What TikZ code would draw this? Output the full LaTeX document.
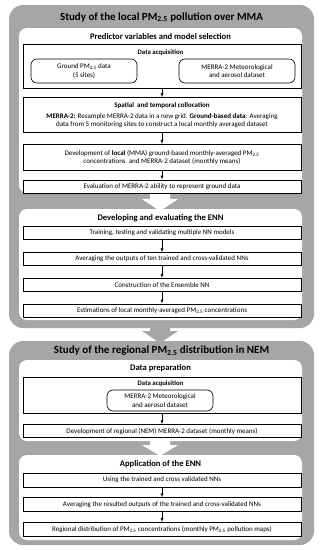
\documentclass[tikz,border=0pt]{standalone}
\usepackage{fontspec}
\setmainfont{Carlito}
\usetikzlibrary{positioning}

\definecolor{framegray}{RGB}{166,166,166}
\tikzset{
    stepbox/.style={draw, rectangle, fill=white, line width=0.6pt, minimum width=278pt, inner sep=1pt, align=center, font=\fontsize{7}{8.4}\selectfont},
    databox/.style={draw, rectangle, rounded corners=6pt, fill=white, line width=0.6pt, inner sep=1pt, align=center, font=\fontsize{7}{8.4}\selectfont},
    maintitle/.style={inner sep=0pt, font=\fontsize{11}{13}\selectfont\bfseries},
    subtitle/.style={inner sep=0pt, font=\fontsize{8.6}{10}\selectfont\bfseries},
    smalltitle/.style={inner sep=0pt, font=\fontsize{6.8}{8}\selectfont\bfseries},
}

\begin{document}
\begin{tikzpicture}[x=1pt, y=-1pt, >=latex]
    \useasboundingbox (0,0) rectangle (323,550);

    % Frames
    \fill[framegray, rounded corners=14pt] (9,5) rectangle (314,328);
    \fill[framegray, rounded corners=14pt] (9,341) rectangle (314,545);
    \fill[framegray] (150,326) -- (170,326) -- (170,331) -- (178,331) -- (160,343) -- (142,331) -- (150,331) -- cycle;
    \fill[white, rounded corners=8pt] (19,28) rectangle (302,193);
    \fill[white, rounded corners=8pt] (19,209) rectangle (302,320);
    \fill[white, rounded corners=8pt] (19,360) rectangle (302,441);
    \fill[white, rounded corners=8pt] (19,455) rectangle (302,540);
    \fill[white] (150,192) -- (170,192) -- (170,199) -- (178,199) -- (160,211) -- (142,199) -- (150,199) -- cycle;
    \fill[white] (150,440) -- (170,440) -- (170,445) -- (178,445) -- (160,456) -- (142,445) -- (150,445) -- cycle;

    % Local study
    \node[maintitle] (localtitle) at (161.5,17) {Study of the local PM\textsubscript{2.5} pollution over MMA};
    \node[subtitle] (predtitle) at (160.5,36.5) {Predictor variables and model selection};
    \node[stepbox, minimum height=44pt] (acqA) at (162,66) {};
    \node[smalltitle] (acqtitleA) at (160.5,52.5) {Data acquisition};
    \node[databox, minimum width=106pt, minimum height=24pt] (ground) at (84,71) {Ground PM\textsubscript{2.5} data\\(5 sites)};
    \node[databox, minimum width=116pt, minimum height=24pt] (merraA) at (237,71) {MERRA-2 Meteorological\\and aerosol dataset};
    \node[stepbox, minimum height=35pt, below=9pt of acqA] (colloc) {\textbf{Spatial\ \ and temporal collocation}\\[2.5pt]\textbf{MERRA-2:} Resample MERRA-2 data in a new grid. \textbf{Ground-based data}: Averaging\\data from 5 monitoring sites to construct a local monthly averaged dataset};
    \node[stepbox, minimum height=26pt, below=11pt of colloc] (devlocal) {Development of \textbf{local} (MMA) ground-based monthly-averaged PM\textsubscript{2.5}\\concentrations\ \ and MERRA-2 dataset (monthly means)};
    \node[stepbox, minimum height=13pt, below=9pt of devlocal] (evaluation) {Evaluation of MERRA-2 ability to represent ground data};

    \draw[->] (acqA) -- (colloc);
    \draw[->] (colloc) -- (devlocal);
    \draw[->] (devlocal) -- (evaluation);

    % Developing the ENN
    \node[subtitle] (enntitle) at (160.5,218) {Developing and evaluating the ENN};
    \node[stepbox, minimum height=13pt] (training) at (162,232.5) {Training, testing and validating multiple NN models};
    \node[stepbox, minimum height=13pt, below=13pt of training] (averaging) {Averaging the outputs of ten trained and cross-validated NNs};
    \node[stepbox, minimum height=13pt, below=12pt of averaging] (construction) {Construction of the Ensemble NN};
    \node[stepbox, minimum height=13pt, below=12pt of construction] (estimation) {Estimations of local monthly-averaged PM\textsubscript{2.5} concentrations};

    \draw[->] (training) -- (averaging);
    \draw[->] (averaging) -- (construction);
    \draw[->] (construction) -- (estimation);

    % Regional study
    \node[maintitle] (regiontitle) at (161.5,351) {Study of the regional PM\textsubscript{2.5} distribution in NEM};
    \node[subtitle] (preptitle) at (160.5,368) {Data preparation};
    \node[stepbox, minimum height=36pt] (acqB) at (162,395) {};
    \node[smalltitle] (acqtitleB) at (160.5,384) {Data acquisition};
    \node[databox, minimum width=106pt, minimum height=21pt] (merraB) at (160,400.5) {MERRA-2 Meteorological\\and aerosol dataset};
    \node[stepbox, minimum height=13pt, below=11pt of acqB] (devregion) {Development of regional (NEM) MERRA-2 dataset (monthly means)};

    \draw[->] (acqB) -- (devregion);

    % Application of the ENN
    \node[subtitle] (apptitle) at (160.5,464.5) {Application of the ENN};
    \node[stepbox, minimum height=14pt] (using) at (162,480) {Using the trained and cross validated NNs};
    \node[stepbox, minimum height=14pt, below=10pt of using] (resulted) {Averaging the resulted outputs of the trained and cross-validated NNs};
    \node[stepbox, minimum height=14pt, below=10pt of resulted] (distribution) {Regional distribution of PM\textsubscript{2.5} concentrations (monthly PM\textsubscript{2.5} pollution maps)};

    \draw[->] (using) -- (resulted);
    \draw[->] (resulted) -- (distribution);
\end{tikzpicture}
\end{document}
